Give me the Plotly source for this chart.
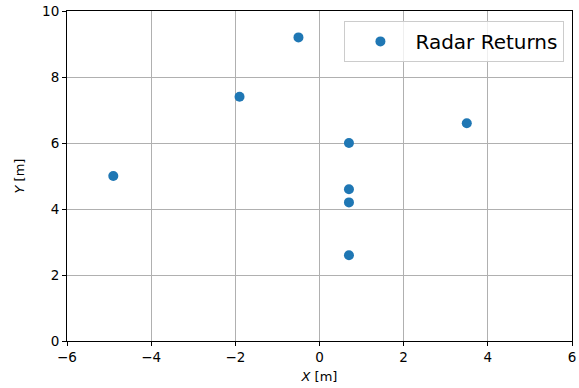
import plotly.graph_objects as go

x_vals = [-4.9, -1.9, -0.5, 0.7, 0.7, 0.7, 0.7, 3.5]
y_vals = [5.0, 7.4, 9.2, 6.0, 4.6, 4.2, 2.6, 6.6]
series_name = "Radar Returns"
x_ticks = [-6, -4, -2, 0, 2, 4, 6]
y_ticks = [0, 2, 4, 6, 8, 10]

fig = go.Figure()
fig.add_trace(go.Scatter(
    x=x_vals, y=y_vals, mode="markers", name=series_name,
    marker=dict(color="#1f77b4", size=10, line=dict(width=0)),
    showlegend=True,
))

axis_common = dict(
    showline=True, linecolor="black", linewidth=1, mirror=True,
    ticks="outside", ticklen=4, tickcolor="black", tickwidth=1,
    showgrid=True, gridcolor="#b0b0b0", gridwidth=0.8,
    zeroline=False, automargin=False,
    tickfont=dict(family="DejaVu Sans", size=13.5, color="black"),
    title_font=dict(family="DejaVu Sans", size=13, color="black"),
)

fig.update_layout(
    width=579, height=388,
    margin=dict(l=67, r=7, t=11, b=47),
    plot_bgcolor="white", paper_bgcolor="white",
    xaxis=dict(range=[-6, 6], tickvals=x_ticks,
               ticktext=[str(v).replace("-", "\u2212") for v in x_ticks],
               title=dict(text="<i>X</i> [m]", standoff=7), **axis_common),
    yaxis=dict(range=[0, 10], tickvals=y_ticks,
               ticktext=[str(v) for v in y_ticks],
               title=dict(text="<i>Y</i> [m]", standoff=14), **axis_common),
    legend=dict(x=0.985, y=0.97, xanchor="right", yanchor="top",
                bgcolor="rgba(255,255,255,0.8)", bordercolor="#cccccc", borderwidth=1,
                itemwidth=60,
                font=dict(family="DejaVu Sans", size=20, color="black")),
    showlegend=True,
)

fig.write_html("out.html")
